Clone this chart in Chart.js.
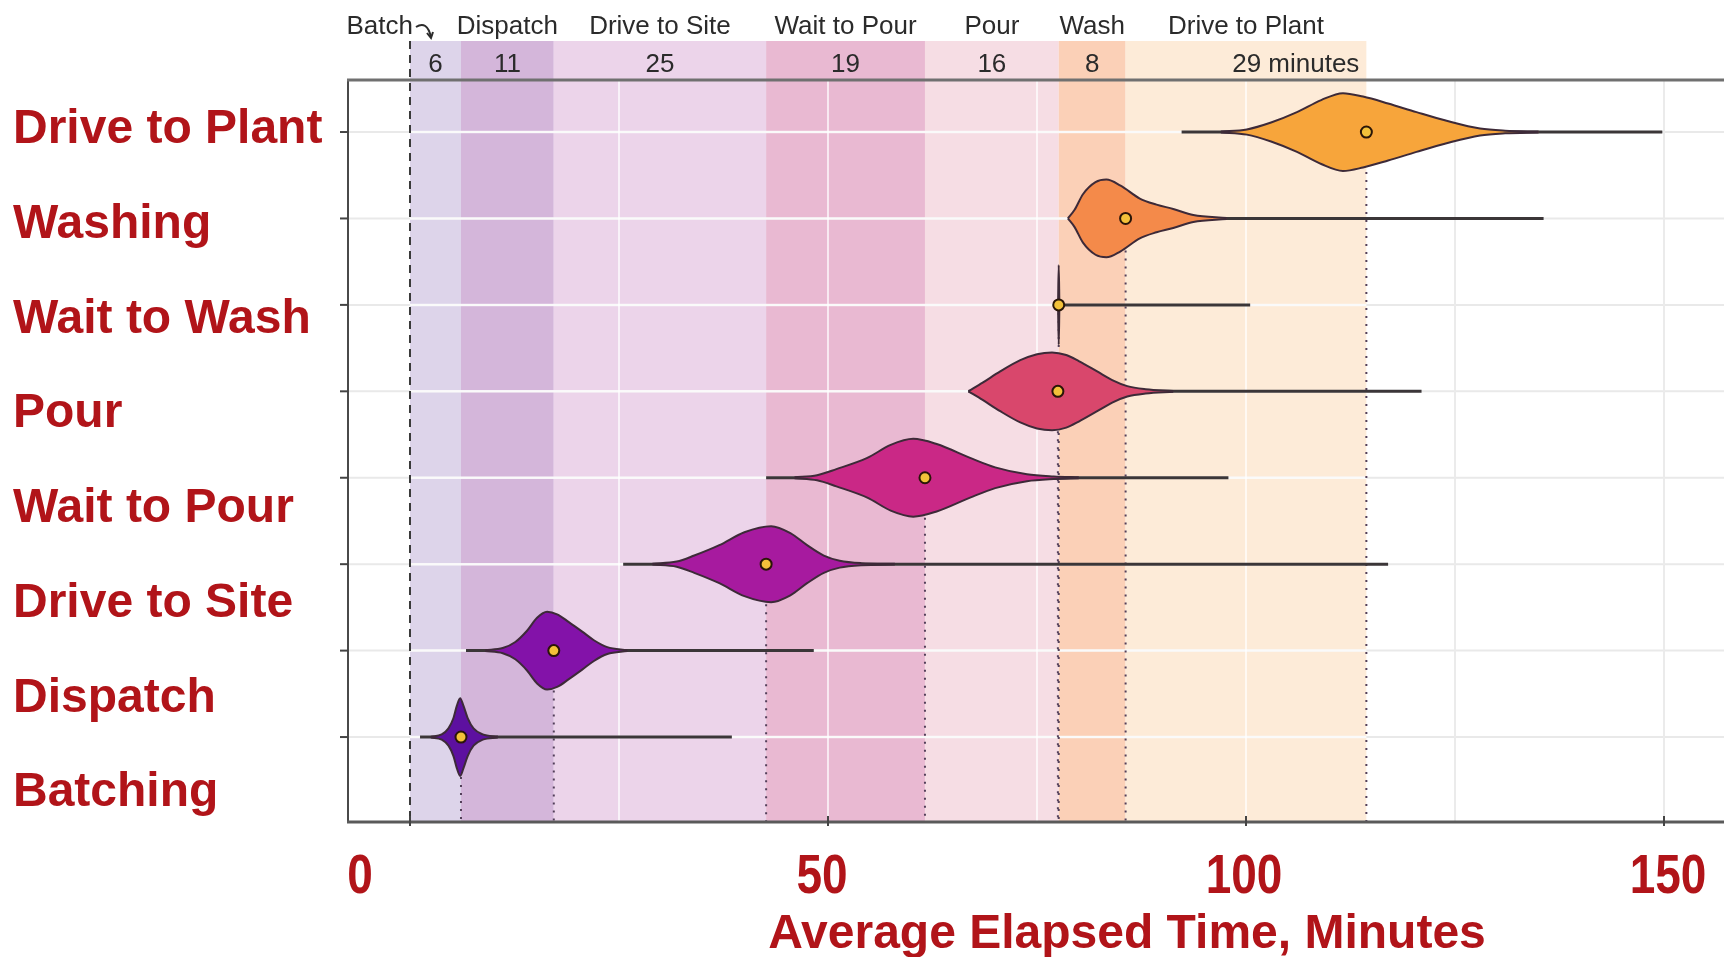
<!DOCTYPE html>
<html>
<head>
<meta charset="utf-8">
<script src="https://cdn.jsdelivr.net/npm/chart.js@4.4.1/dist/chart.umd.min.js"></script>
<style>
html,body{margin:0;padding:0;background:#fff;overflow:hidden}
#wrap{width:1724px;height:957px;position:relative}
</style>
</head>
<body>
<div id="wrap"><canvas id="c" width="1724" height="957"></canvas></div>
<script>
// ---------------- DATA ----------------
const categories = ['Batching','Dispatch','Drive to Site','Wait to Pour','Pour','Wait to Wash','Washing','Drive to Plant'];
const medians    = [6.1, 17.2, 42.6, 61.6, 77.5, 77.6, 85.6, 114.4];
const whiskerMin = [1.2, 6.7, 25.5, 42.6, 66.8, 77.6, 78.7, 92.3];
const whiskerMax = [38.5, 48.3, 117, 97.9, 121, 100.5, 135.6, 149.8];

// violin outlines: minutes and half-height (in row units)
const batchingX = [2.5, 3.8, 4.6, 5.2, 5.6, 6.0, 6.4, 6.9, 7.6, 8.7, 10.5];
const batchingW = [0.005, 0.03, 0.1, 0.22, 0.36, 0.45, 0.36, 0.22, 0.1, 0.03, 0.005];
const dispatchX = [9, 11.1, 12.6, 14, 15.2, 16.4, 17.6, 19, 20.6, 22, 23.6, 26];
const dispatchW = [0.005, 0.03, 0.1, 0.23, 0.38, 0.45, 0.42, 0.33, 0.22, 0.12, 0.04, 0.005];
const driveSiteX = [29, 31.9, 34, 37, 40, 43.2, 45.5, 47.5, 49.5, 51.4, 54, 58];
const driveSiteW = [0.005, 0.03, 0.1, 0.22, 0.37, 0.44, 0.36, 0.22, 0.1, 0.04, 0.012, 0.004];
const waitPourX = [46, 48.7, 51, 54.7, 57.5, 60.2, 63, 67, 70, 73.8, 77, 80];
const waitPourW = [0.005, 0.03, 0.1, 0.23, 0.38, 0.45, 0.39, 0.23, 0.12, 0.04, 0.015, 0.005];
const pourX = [66.8, 68.5, 70.6, 73, 75, 76.8, 78.5, 80, 82.2, 84, 85.8, 88, 91.3];
const pourW = [0.0, 0.1, 0.23, 0.36, 0.43, 0.45, 0.42, 0.35, 0.23, 0.13, 0.06, 0.025, 0.005];
const waitWashX = [77.52, 77.6, 77.68];
const waitWashW = [0, 0.46, 0];
const washingX = [78.7, 79.5, 80.5, 82, 83.3, 85, 87.3, 89.3, 91.3, 93.7, 97.7];
const washingW = [0.0, 0.1, 0.28, 0.42, 0.45, 0.38, 0.23, 0.16, 0.11, 0.04, 0.005];
const drivePlantX = [97, 100.1, 103, 106.1, 109, 111.6, 114, 117, 120.4, 124, 128, 131, 135];
const drivePlantW = [0.005, 0.03, 0.11, 0.23, 0.37, 0.45, 0.41, 0.33, 0.23, 0.13, 0.04, 0.015, 0.005];

// phase bands: each phase ends at the median elapsed time of its stage
const phaseNames    = ['Batch','Dispatch','Drive to Site','Wait to Pour','Pour','Wash','Drive to Plant'];
const phaseMinutes  = [6, 11, 25, 19, 16, 8, 29];          // labels shown above the bands
const phaseEndStage = [0, 1, 2, 3, 5, 6, 7];               // index into medians
const phaseStart    = 0;
const xTickValues   = [0, 50, 100, 150];
const xTickLabels   = ['0', '50', '100', '150'];
const gridValues    = [25, 50, 75, 100, 125, 150];
const xTitle        = 'Average Elapsed Time, Minutes';

// ---------------- STYLE ----------------
const violinShapes = [
  [batchingX, batchingW], [dispatchX, dispatchW], [driveSiteX, driveSiteW], [waitPourX, waitPourW],
  [pourX, pourW], [waitWashX, waitWashW], [washingX, washingW], [drivePlantX, drivePlantW]
];
const violinColors = ['#5d10a0','#8312a9','#a71a9f','#ca2886','#d9476c','#3a3a3a','#f48a4a','#f7a53b'];
const phaseColors  = ['#ddd4ea','#d4b6da','#ecd4ea','#e9b9d2','#f6dde4','#fbd0b7','#fdebd8'];
const outline = '#3d2a38';
const red = '#b11419';
const xTickLabelShift = [-50, -6, -2, 4];
const bandTopPx = 41, nameRowPx = 27, numRowPx = 65;

// ---------------- DATASETS ----------------
const datasets = [];
categories.forEach((c, i) => {
  datasets.push({
    label: c + ' range',
    data: [{x: whiskerMin[i], y: i}, {x: whiskerMax[i], y: i}],
    borderColor: '#3b3638', borderWidth: 3, pointRadius: 0, fill: false, order: 3
  });
});
categories.forEach((c, i) => {
  const [xs, ws] = violinShapes[i];
  datasets.push({
    label: c + ' upper',
    data: xs.map((v, k) => ({x: v, y: i + ws[k]})),
    borderColor: outline, borderWidth: 2, backgroundColor: violinColors[i],
    fill: '+1', pointRadius: 0, cubicInterpolationMode: 'monotone', order: 2
  });
  datasets.push({
    label: c + ' lower',
    data: xs.map((v, k) => ({x: v, y: i - ws[k]})),
    borderColor: outline, borderWidth: 2, fill: false,
    pointRadius: 0, cubicInterpolationMode: 'monotone', order: 1
  });
});
datasets.push({
  label: 'median',
  data: medians.map((m, i) => ({x: m, y: i})),
  showLine: false, pointRadius: 5.5, pointBackgroundColor: '#f3c13a',
  pointBorderColor: '#2a1608', pointBorderWidth: 2, order: 0
});

function phaseBounds() {
  let prev = phaseStart;
  return phaseEndStage.map(s => { const b = [prev, medians[s]]; prev = medians[s]; return b; });
}

// ---------------- DECORATION PLUGIN ----------------
const decor = {
  id: 'decor',
  beforeDatasetsDraw(chart) {
    const ctx = chart.ctx, xs = chart.scales.x, ys = chart.scales.y, a = chart.chartArea;
    const bounds = phaseBounds();
    ctx.save();
    bounds.forEach(([s, e], k) => {
      const x0 = xs.getPixelForValue(s), x1 = xs.getPixelForValue(e);
      ctx.fillStyle = phaseColors[k];
      ctx.fillRect(x0, bandTopPx, x1 - x0, a.bottom - bandTopPx);
    });
    const bandEnd = bounds[bounds.length - 1][1];
    const bx0 = xs.getPixelForValue(phaseStart), bx1 = xs.getPixelForValue(bandEnd);
    // horizontal grid
    categories.forEach((c, i) => {
      const py = ys.getPixelForValue(i);
      ctx.strokeStyle = '#e9e9e9'; ctx.lineWidth = 2;
      ctx.beginPath(); ctx.moveTo(a.left, py); ctx.lineTo(a.right, py); ctx.stroke();
      ctx.strokeStyle = 'rgba(255,255,255,0.75)'; ctx.lineWidth = 2.5;
      ctx.beginPath(); ctx.moveTo(bx0, py); ctx.lineTo(bx1, py); ctx.stroke();
    });
    // vertical grid
    gridValues.forEach(v => {
      const px = xs.getPixelForValue(v);
      ctx.strokeStyle = v < bandEnd ? 'rgba(255,255,255,0.7)' : '#ebebeb';
      ctx.lineWidth = 2;
      ctx.beginPath(); ctx.moveTo(px, a.top); ctx.lineTo(px, a.bottom); ctx.stroke();
    });
    // dashed start line
    ctx.strokeStyle = '#3a3a3a'; ctx.lineWidth = 2; ctx.setLineDash([8, 6]);
    ctx.beginPath(); ctx.moveTo(bx0, bandTopPx); ctx.lineTo(bx0, a.bottom); ctx.stroke();
    // dotted median lines
    ctx.strokeStyle = '#54405a'; ctx.lineWidth = 2; ctx.setLineDash([2, 6]);
    medians.forEach((m, i) => {
      const px = xs.getPixelForValue(m);
      ctx.beginPath(); ctx.moveTo(px, ys.getPixelForValue(i)); ctx.lineTo(px, a.bottom); ctx.stroke();
    });
    ctx.setLineDash([]);
    ctx.restore();
  },
  afterDraw(chart) {
    const ctx = chart.ctx, xs = chart.scales.x, ys = chart.scales.y, a = chart.chartArea;
    ctx.save();
    // frame
    ctx.strokeStyle = '#4a4a4a'; ctx.lineWidth = 2;
    ctx.beginPath(); ctx.moveTo(a.left, a.top); ctx.lineTo(a.left, a.bottom); ctx.stroke();
    ctx.strokeStyle = '#707070'; ctx.lineWidth = 3;
    ctx.beginPath(); ctx.moveTo(a.left - 1, a.top); ctx.lineTo(a.right, a.top); ctx.stroke();
    ctx.strokeStyle = '#5a5a5a'; ctx.lineWidth = 3;
    ctx.beginPath(); ctx.moveTo(a.left - 1, a.bottom); ctx.lineTo(a.right, a.bottom); ctx.stroke();
    // ticks
    ctx.strokeStyle = '#444'; ctx.lineWidth = 2;
    categories.forEach((c, i) => {
      const py = ys.getPixelForValue(i);
      ctx.beginPath(); ctx.moveTo(a.left - 8, py); ctx.lineTo(a.left, py); ctx.stroke();
    });
    xTickValues.forEach(v => {
      const px = xs.getPixelForValue(v);
      ctx.beginPath(); ctx.moveTo(px, a.bottom - 6); ctx.lineTo(px, a.bottom + 4); ctx.stroke();
    });
    // phase labels
    ctx.fillStyle = '#2b2b2b';
    ctx.font = '26px "Liberation Sans", Arial, sans-serif';
    ctx.textBaseline = 'middle';
    const bounds = phaseBounds();
    bounds.forEach(([s, e], k) => {
      const x0 = xs.getPixelForValue(s), x1 = xs.getPixelForValue(e);
      const cx = (x0 + x1) / 2;
      if (k === 0) {
        ctx.textAlign = 'right';
        ctx.fillText(phaseNames[k], x0 + 3, nameRowPx);
      } else {
        ctx.textAlign = 'center';
        ctx.fillText(phaseNames[k], cx, nameRowPx);
      }
      if (k === bounds.length - 1) {
        ctx.textAlign = 'right';
        ctx.fillText(phaseMinutes[k] + ' minutes', x1 - 7, numRowPx);
      } else {
        ctx.textAlign = 'center';
        ctx.fillText(String(phaseMinutes[k]), cx, numRowPx);
      }
    });
    // little hook arrow after "Batch"
    const bx = xs.getPixelForValue(phaseStart);
    ctx.strokeStyle = '#2b2b2b'; ctx.lineWidth = 2;
    ctx.beginPath(); ctx.moveTo(bx + 6, 27); ctx.quadraticCurveTo(bx + 17, 20, bx + 21, 37); ctx.stroke();
    ctx.beginPath(); ctx.moveTo(bx + 17, 33); ctx.lineTo(bx + 21, 38); ctx.lineTo(bx + 23, 32); ctx.stroke();
    // x tick labels (condensed bold red)
    ctx.fillStyle = red;
    ctx.font = 'bold 56px "Liberation Sans", Arial, sans-serif';
    ctx.textAlign = 'center'; ctx.textBaseline = 'alphabetic';
    xTickValues.forEach((v, k) => {
      const px = xs.getPixelForValue(v) + xTickLabelShift[k];
      ctx.save(); ctx.translate(px, 893); ctx.scale(0.82, 1); ctx.fillText(xTickLabels[k], 0, 0); ctx.restore();
    });
    // x title
    ctx.font = 'bold 48px "Liberation Sans", Arial, sans-serif';
    ctx.fillText(xTitle, 1127, 948);
    ctx.restore();
  }
};

// ---------------- CHART ----------------
new Chart(document.getElementById('c'), {
  type: 'line',
  data: { datasets },
  options: {
    responsive: false,
    devicePixelRatio: 1,
    animation: false,
    events: [],
    layout: { autoPadding: false, padding: { left: 13, top: 80, right: 0, bottom: 135 } },
    plugins: { legend: { display: false }, tooltip: { enabled: false } },
    scales: {
      x: { type: 'linear', min: -7.416, max: 157.18, display: false },
      y: { type: 'linear', min: -0.983, max: 7.602, display: false },
      yLab: {
        type: 'linear', position: 'left', axis: 'y',
        min: -0.306, max: 7.528,
        grid: { display: false, drawTicks: false },
        border: { display: false },
        afterBuildTicks: (s) => { s.ticks = categories.map((c, i) => ({ value: i })); },
        afterFit: (s) => { s.width = 335; },
        ticks: {
          autoSkip: false,
          crossAlign: 'far',
          color: red,
          font: { family: '"Liberation Sans", Arial, sans-serif', size: 48, weight: 'bold' },
          callback: (v) => categories[v]
        }
      }
    }
  },
  plugins: [decor]
});
</script>
</body>
</html>
